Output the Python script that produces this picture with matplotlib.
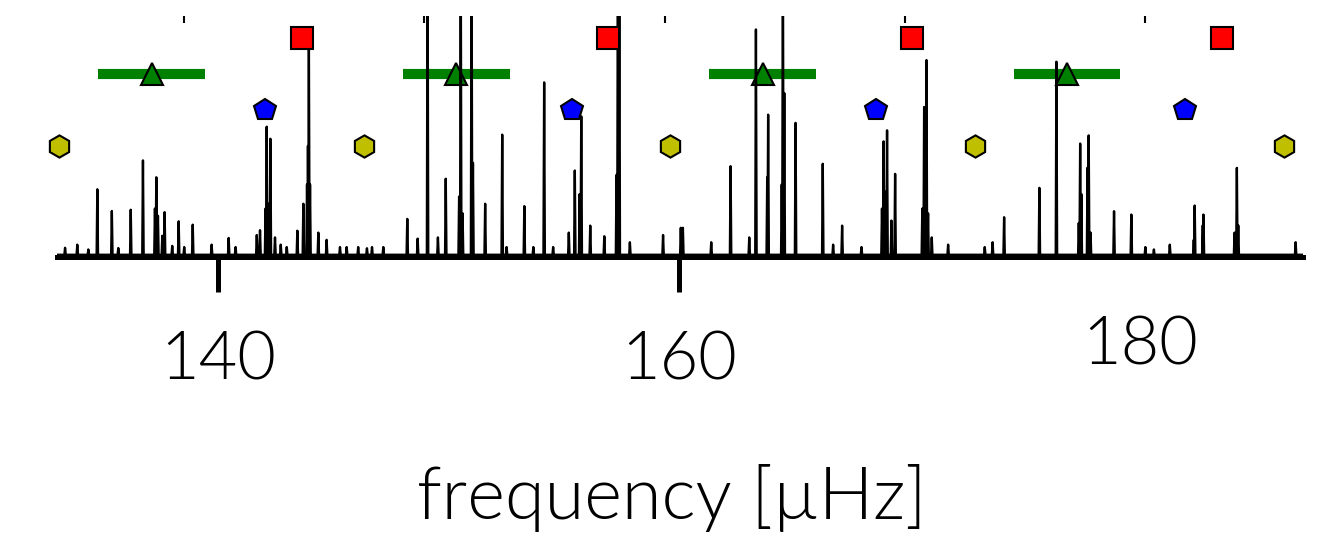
import matplotlib
matplotlib.use("Agg")
import matplotlib.pyplot as plt
from matplotlib import font_manager as fm

# ---------------- data ----------------
peak_freqs = [133.35, 133.88, 134.36, 134.75, 135.38, 135.66, 136.20, 136.73, 137.25, 137.31,
              137.38, 137.57, 137.67, 138.00, 138.28, 138.52, 138.89, 139.71, 140.45, 140.75,
              141.67, 141.81, 142.05, 142.10, 142.18, 142.26, 142.46, 142.71, 142.97, 143.43,
              143.69, 143.85, 143.89, 143.93, 143.98, 144.34, 144.70, 145.28, 145.57, 146.07,
              146.45, 146.67, 147.16, 148.20, 148.65, 149.08, 149.53, 149.87, 150.45, 150.52,
              150.60, 150.99, 151.05, 151.58, 152.32, 152.51, 153.28, 153.67, 154.14, 154.53,
              155.21, 155.47, 155.68, 155.75, 156.14, 156.75, 157.28, 157.34, 157.40, 157.86,
              159.30, 160.07, 160.16, 161.39, 162.23, 163.04, 163.33, 163.82, 163.86, 164.45,
              164.50, 164.56, 165.05, 166.23, 166.68, 167.07, 167.91, 168.80, 168.87, 168.95,
              169.02, 169.21, 169.37, 170.55, 170.63, 170.68, 170.73, 170.80, 170.96, 171.67,
              173.26, 173.60, 174.10, 175.63, 176.37, 177.34, 177.40, 177.45, 177.72, 177.77,
              177.85, 178.87, 179.62, 180.23, 180.60, 181.29, 182.33, 182.37, 182.72, 182.75,
              184.10, 184.20, 184.26, 186.75]
peak_powers = [0.037, 0.05, 0.03, 0.28, 0.19, 0.036, 0.195, 0.40, 0.20, 0.33,
               0.17, 0.087, 0.185, 0.045, 0.147, 0.04, 0.133, 0.05, 0.078, 0.04,
               0.09, 0.11, 0.20, 0.54, 0.22, 0.49, 0.08, 0.05, 0.04, 0.108,
               0.22, 0.30, 0.46, 0.88, 0.30, 0.10, 0.07, 0.04, 0.04, 0.04,
               0.035, 0.04, 0.04, 0.157, 0.075, 1.3, 0.08, 0.324, 0.25, 1.3,
               0.18, 1.3, 0.39, 0.22, 0.507, 0.04, 0.21, 0.04, 0.724, 0.04,
               0.10, 0.358, 0.26, 0.583, 0.129, 0.085, 0.34, 1.3, 1.3, 0.06,
               0.09, 0.12, 0.12, 0.06, 0.376, 0.08, 0.944, 0.33, 0.59, 0.30,
               1.3, 0.68, 0.556, 0.386, 0.05, 0.129, 0.04, 0.20, 0.479, 0.27,
               0.525, 0.15, 0.344, 0.20, 0.622, 0.38, 0.817, 0.18, 0.08, 0.05,
               0.04, 0.06, 0.164, 0.286, 0.81, 0.14, 0.47, 0.26, 0.37, 0.504,
               0.10, 0.189, 0.175, 0.04, 0.03, 0.05, 0.07, 0.2125, 0.13, 0.175,
               0.10, 0.369, 0.13, 0.06]
noise_floor = 0.008

hex_freqs = [133.09, 146.31, 159.61, 172.83, 186.25]
pent_freqs = [142.03, 155.33, 168.53, 181.97]
square_freqs = [143.62, 156.89, 170.11, 183.54]
tri_freqs = [137.11, 150.33, 163.62, 176.83]
tri_errs = [2.32, 2.32, 2.32, 2.32]

hex_level = 0.46
pent_level = 0.61
tri_level = 0.758
square_level = 0.907

x_range = (133.0, 187.07)
major_ticks = [140, 160, 180]
major_labels = ["140", "160", "180"]
top_ticks = [138.51, 148.92, 159.38, 169.82, 180.23]
xlabel_text = "frequency [µHz]"


# ---------------- font: a light sans weight ----------------
def find_font(names):
    for name in names:
        for f in fm.fontManager.ttflist:
            if f.fname.split('/')[-1].lower() == name.lower():
                return fm.FontProperties(fname=f.fname)
    return None


light = find_font(['SourceSansPro-Light.otf', 'SourceSans3-Light.ttf', 'Lato-Light.ttf',
                   'Roboto-Light.ttf', 'OpenSans-Light.ttf'])
if light is None:
    light = fm.FontProperties(family=['Lato', 'DejaVu Sans'])

# ---------------- figure ----------------
fig = plt.figure(figsize=(13.21, 5.37), dpi=100)
ax = fig.add_axes([57 / 1321, 1 - 256.7 / 537, 1246 / 1321, 240.7 / 537])

# spectrum as a sequence of spikes
spec_f = [x_range[0]]
spec_p = [noise_floor]
hw = 0.03
for f, p in zip(peak_freqs, peak_powers):
    spec_f += [f - hw, f, f + hw]
    spec_p += [noise_floor, p, noise_floor]
spec_f.append(x_range[1])
spec_p.append(noise_floor)
ax.plot(spec_f, spec_p, color='k', lw=1.7, zorder=3)

ax.errorbar(tri_freqs, [tri_level] * len(tri_freqs), xerr=tri_errs, fmt='^',
            color='g', ecolor='g', elinewidth=7.3, capsize=0, ms=16.5,
            mec='k', mew=1.5, zorder=2)
ax.plot(hex_freqs, [hex_level] * len(hex_freqs), 'h', color='y', mec='k',
        ms=16, mew=1.5, zorder=4, clip_on=False)
ax.plot(pent_freqs, [pent_level] * len(pent_freqs), 'p', color='b', mec='k',
        ms=16.5, mew=1.5, zorder=4)
ax.plot(square_freqs, [square_level] * len(square_freqs), 's', color='r', mec='k',
        ms=16.5, mew=1.5, zorder=4)

ax.set_xlim(*x_range)
ax.set_ylim(0, 1)
for s in ['left', 'right', 'top']:
    ax.spines[s].set_visible(False)
ax.spines['bottom'].set_linewidth(3.6)
ax.set_yticks([])

ax.set_xticks(major_ticks)
ax.set_xticklabels(major_labels)
for lab in ax.get_xticklabels():
    lab.set_fontproperties(light)
    lab.set_fontsize(48)
ax.tick_params(axis='x', which='major', direction='out', length=25, width=3.6,
               pad=29, top=False, bottom=True)
ax.set_xticks(top_ticks, minor=True)
ax.tick_params(axis='x', which='minor', direction='in', length=5, width=1.5,
               top=True, bottom=False)
t180 = ax.xaxis.get_major_ticks()[2]
t180.tick1line.set_visible(False)
t180.set_pad(18)

ax.set_xlabel(xlabel_text, fontproperties=light, fontsize=52)
ax.xaxis.set_label_coords((672 - 57) / 1246, -0.862)

fig.savefig("out.png", dpi=100)
